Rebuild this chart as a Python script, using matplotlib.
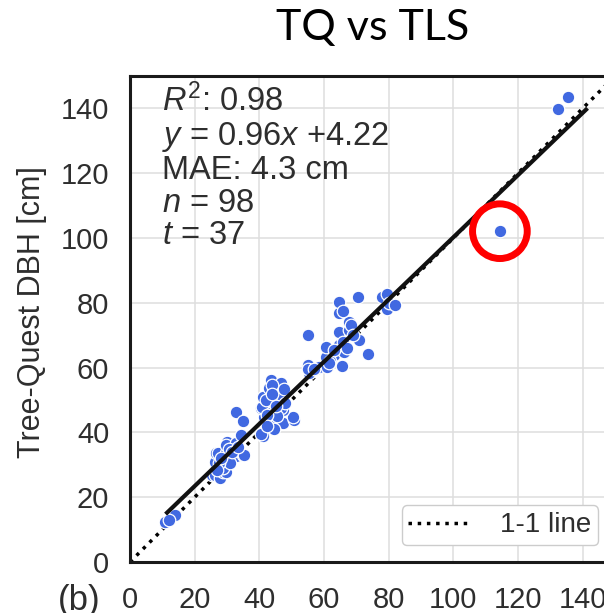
import matplotlib
matplotlib.use("Agg")
import matplotlib.pyplot as plt
from matplotlib.lines import Line2D

# ---- data (TLS DBH on x, Tree-Quest DBH on y), cm ----
tls_dbh = [
    10.8, 13.8, 12.0,
    25.5, 26.2, 27.9, 28.7, 29.7, 28.7, 26.2, 26.7, 27.2, 29.7, 29.9, 29.7,
    32.8, 34.9, 35.4, 32.8, 34.4, 32.8, 35.1, 31.0, 30.5,
    27.5, 28.0, 31.5, 33.5, 26.8,
    41.0, 40.5, 41.5, 43.6, 44.1, 46.7, 47.2, 50.8, 50.5, 40.5, 40.8, 44.6,
    47.2, 46.7, 41.0, 45.1, 46.7, 43.1, 43.6, 46.7, 44.0, 42.0, 43.5, 45.5,
    48.0, 44.5,
    42.5, 45.0, 44.0, 47.5, 42.5,
    54.9, 55.4, 55.0, 58.5, 61.0, 60.5, 63.1, 65.6, 66.2, 64.6, 60.5, 73.6,
    70.8, 64.6, 67.7, 54.9, 67.7, 68.5, 62.0, 66.0, 69.0,
    57.0, 63.0, 67.0, 61.5,
    64.6, 64.6, 70.6, 77.9, 79.5, 81.5, 79.5, 80.0, 82.0, 66.0,
    114.4, 132.3, 135.4,
]
tq_dbh = [
    12.2, 14.6, 13.0,
    27.0, 26.9, 26.0, 27.9, 27.9, 29.0, 31.0, 33.7, 33.6, 33.6, 36.9, 36.0,
    32.6, 33.1, 33.1, 36.7, 39.2, 46.4, 43.5, 30.5, 35.0,
    30.5, 32.0, 34.0, 35.5, 28.5,
    38.9, 39.5, 44.9, 43.8, 43.3, 43.3, 42.8, 43.8, 44.8, 47.4, 47.9, 49.0,
    46.9, 47.4, 51.0, 51.5, 51.5, 53.6, 56.2, 55.3, 54.5, 50.0, 46.0, 45.0,
    49.0, 41.0,
    45.5, 48.0, 52.0, 53.5, 42.0,
    60.8, 58.3, 59.5, 60.2, 60.1, 63.3, 63.8, 60.5, 64.9, 66.9, 66.4, 64.2,
    68.5, 71.0, 71.5, 70.0, 74.1, 73.0, 62.0, 68.0, 70.0,
    59.5, 65.5, 66.0, 61.5,
    76.7, 80.2, 81.8, 81.8, 82.6, 79.5, 78.2, 80.0, 79.2, 77.5,
    102.1, 139.7, 143.5,
]
fit_slope = 0.96
fit_intercept = 4.22
fit_x_range = [11.0, 141.5]
one_to_one = [0, 150]
ticks = [0, 20, 40, 60, 80, 100, 120, 140]
stats_text = "$R^2$: 0.98\n$y$ = 0.96$x$ +4.22\nMAE: 4.3 cm\n$n$ = 98\n$t$ = 37"

plt.rcParams['font.family'] = ['Liberation Sans', 'DejaVu Sans']
plt.rcParams['mathtext.fontset'] = 'custom'
plt.rcParams['mathtext.rm'] = 'Liberation Sans'
plt.rcParams['mathtext.it'] = 'Liberation Sans:italic'

fig = plt.figure(figsize=(6.04, 6.13), dpi=100)
ax = fig.add_axes([130/604, (613-562)/613, 485/604, 486/613])
ax.set_xlim(0, 150)
ax.set_ylim(0, 150)
ax.set_xticks(ticks)
ax.set_yticks(ticks)
ax.grid(True, color='#dedede', lw=1.1, zorder=0)
ax.set_axisbelow(True)
for s in ['left', 'bottom', 'top', 'right']:
    ax.spines[s].set_color('#1a1a1a')
    ax.spines[s].set_linewidth(2.2)
ax.tick_params(axis='both', length=0, labelsize=21, colors='#2e2e2e')
ax.tick_params(axis='x', pad=17)
ax.tick_params(axis='y', pad=15)

ax.plot(one_to_one, one_to_one, ls=':', color='black', lw=2.5, zorder=2)
ax.scatter(tls_dbh, tq_dbh, s=82, color='#4169E1', edgecolor='white',
           linewidth=0.9, zorder=3)
fx = fit_x_range
fy = [fit_slope * v + fit_intercept for v in fx]
ax.plot(fx, fy, color='#111111', lw=3, solid_capstyle='butt', zorder=4)

ax.text(0.066, 0.984, stats_text, transform=ax.transAxes, va='top', ha='left',
        fontsize=23.5, color='#2e2e2e', linespacing=1.06, zorder=5)

handle = Line2D([], [], ls=':', color='black', lw=2.5)
leg = ax.legend([handle], ['1-1 line'], loc='lower right', fontsize=20,
                frameon=True, fancybox=True, framealpha=1,
                edgecolor='#cccccc', handlelength=2.1, handletextpad=1.2,
                borderpad=0.25, borderaxespad=0.6)
leg.get_frame().set_linewidth(1.0)
for t in leg.get_texts():
    t.set_color('#2e2e2e')

# red circle highlighting the outlier
ax.scatter([tls_dbh[-3]], [tq_dbh[-3]], s=1550, facecolor='none',
           edgecolor='#ff0000', linewidth=5, zorder=6)

fig.text(373/604, 1 - 28/613, 'TQ vs TLS', family='Lato', fontsize=31,
         ha='center', va='center', color='black')
fig.text(32/604, 1 - 312/613, 'Tree-Quest DBH [cm]', rotation=90,
         fontsize=22, ha='center', va='center', color='#2e2e2e')
fig.text(58/604, 1 - 584/613, '(b)', fontsize=25, ha='left', va='top',
         color='#2e2e2e')

fig.savefig('out.png', dpi=100)
